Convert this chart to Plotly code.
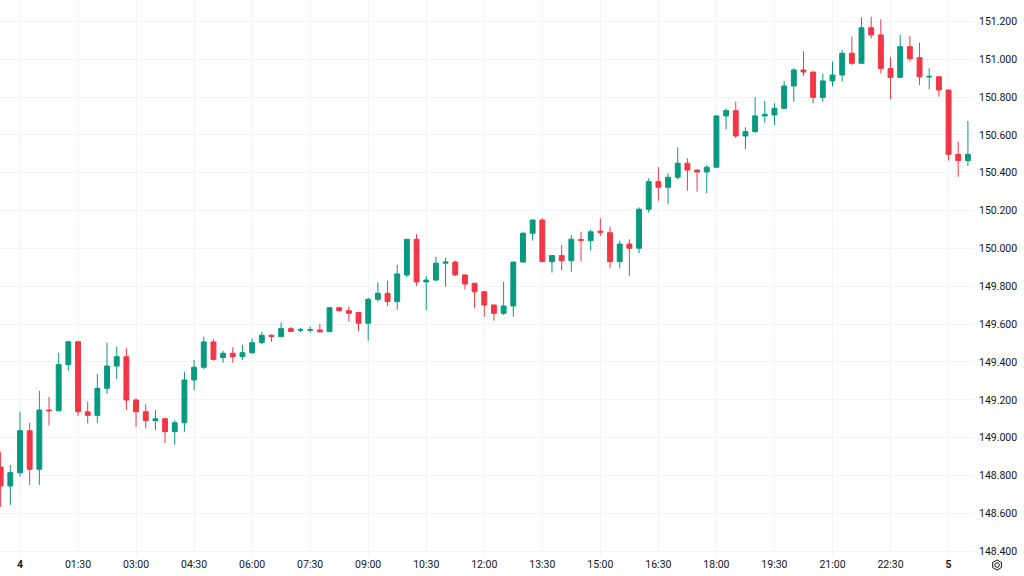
import pandas as pd
import plotly.graph_objects as go
import math

# 15-minute candles from 23:30 (day 3) to 00:30 (day 5)
start_time = "2024-04-03 23:30"
n_candles = 101

opens = [148.845, 148.745, 148.815, 149.037, 148.833, 149.146, 149.142, 149.386, 149.507, 149.137,
         149.118, 149.261, 149.379, 149.428, 149.199, 149.137, 149.090, 149.100, 149.032, 149.079,
         149.305, 149.372, 149.506, 149.423, 149.446, 149.428, 149.449, 149.502, 149.541, 149.534,
         149.576, 149.568, 149.568, 149.569, 149.560, 149.687, 149.671, 149.661, 149.605, 149.731,
         149.763, 149.719, 149.860, 150.048, 149.823, 149.833, 149.922, 149.928, 149.860, 149.816,
         149.771, 149.701, 149.657, 149.696, 149.928, 150.080, 150.150, 149.930, 149.962, 149.935,
         150.047, 150.041, 150.091, 150.083, 149.930, 150.023, 150.001, 150.207, 150.353, 150.323,
         150.376, 150.450, 150.414, 150.404, 150.429, 150.700, 150.728, 150.594, 150.617, 150.700,
         150.705, 150.740, 150.858, 150.943, 150.932, 150.798, 150.885, 150.916, 151.031, 150.978,
         151.166, 151.128, 150.950, 150.904, 151.066, 151.008, 150.906, 150.907, 150.837, 150.497,
         150.464]

highs = [148.925, 148.856, 149.137, 149.079, 149.248, 149.215, 149.449, 149.511, 149.511, 149.190,
         149.337, 149.504, 149.481, 149.472, 149.208, 149.178, 149.146, 149.104, 149.094, 149.349,
         149.411, 149.534, 149.520, 149.458, 149.478, 149.490, 149.525, 149.559, 149.546, 149.608,
         149.585, 149.580, 149.587, 149.601, 149.691, 149.692, 149.692, 149.664, 149.740, 149.821,
         149.830, 149.913, 150.050, 150.076, 149.854, 149.956, 149.951, 149.935, 149.862, 149.817,
         149.772, 149.703, 149.824, 149.930, 150.088, 150.153, 150.159, 149.965, 150.018, 150.071,
         150.088, 150.101, 150.159, 150.115, 150.041, 150.048, 150.217, 150.371, 150.429, 150.397,
         150.534, 150.476, 150.418, 150.441, 150.702, 150.740, 150.775, 150.640, 150.798, 150.780,
         150.767, 150.886, 150.952, 151.042, 150.935, 150.922, 150.987, 151.048, 151.119, 151.221,
         151.224, 151.211, 151.010, 151.128, 151.122, 151.087, 150.952, 150.910, 150.840, 150.564,
         150.673]

lows = [148.634, 148.645, 148.794, 148.750, 148.750, 149.064, 149.140, 149.354, 149.115, 149.076,
        149.079, 149.231, 149.309, 149.146, 149.058, 149.050, 149.041, 148.971, 148.962, 149.032,
        149.252, 149.362, 149.407, 149.396, 149.396, 149.411, 149.442, 149.495, 149.506, 149.532,
        149.559, 149.559, 149.555, 149.557, 149.558, 149.666, 149.613, 149.564, 149.513, 149.719,
        149.696, 149.675, 149.848, 149.802, 149.675, 149.826, 149.798, 149.855, 149.784, 149.684,
        149.639, 149.618, 149.648, 149.639, 149.926, 150.041, 149.928, 149.872, 149.886, 149.877,
        149.930, 149.988, 150.066, 149.895, 149.895, 149.855, 149.974, 150.189, 150.252, 150.233,
        150.365, 150.305, 150.300, 150.291, 150.425, 150.629, 150.583, 150.524, 150.611, 150.664,
        150.652, 150.739, 150.775, 150.911, 150.767, 150.775, 150.855, 150.881, 150.969, 150.977,
        151.110, 150.925, 150.788, 150.903, 150.987, 150.863, 150.841, 150.802, 150.464, 150.379,
        150.436]

closes = [148.745, 148.815, 149.037, 148.833, 149.146, 149.143, 149.386, 149.507, 149.137, 149.118,
          149.261, 149.379, 149.428, 149.199, 149.137, 149.090, 149.100, 149.032, 149.079, 149.305,
          149.372, 149.506, 149.414, 149.446, 149.428, 149.449, 149.502, 149.541, 149.534, 149.576,
          149.562, 149.571, 149.571, 149.559, 149.687, 149.671, 149.657, 149.605, 149.731, 149.763,
          149.719, 149.865, 150.048, 149.823, 149.833, 149.922, 149.928, 149.860, 149.812, 149.771,
          149.701, 149.657, 149.696, 149.928, 150.080, 150.150, 149.930, 149.962, 149.935, 150.048,
          150.043, 150.088, 150.086, 149.930, 150.023, 150.001, 150.207, 150.353, 150.323, 150.376,
          150.450, 150.414, 150.404, 150.429, 150.700, 150.728, 150.594, 150.617, 150.700, 150.709,
          150.740, 150.858, 150.943, 150.932, 150.798, 150.885, 150.916, 151.031, 150.978, 151.166,
          151.128, 150.950, 150.904, 151.066, 151.002, 150.907, 150.909, 150.837, 150.497, 150.464,
          150.497]

tick_times = pd.date_range("2024-04-04 00:00", "2024-04-05 00:00", freq="90min")
tick_labels = ["<b>4</b>", "01:30", "03:00", "04:30", "06:00", "07:30", "09:00", "10:30", "12:00",
               "13:30", "15:00", "16:30", "18:00", "19:30", "21:00", "22:30", "<b>5</b>"]

times = pd.date_range(start_time, periods=n_candles, freq="15min")

GREEN = "#089981"
RED = "#F23645"
GRID = "#f0f3fa"
TEXT = "#131722"

fig = go.Figure(go.Candlestick(
    x=times, open=opens, high=highs, low=lows, close=closes,
    increasing=dict(line=dict(color=GREEN, width=1), fillcolor=GREEN),
    decreasing=dict(line=dict(color=RED, width=1), fillcolor=RED),
    whiskerwidth=0,
    showlegend=False,
))

fig.update_layout(
    width=1024, height=576,
    margin=dict(l=0, r=49, t=0, b=20),
    paper_bgcolor="white", plot_bgcolor="white",
    font=dict(family="Roboto, Arial, sans-serif", size=10.5, color=TEXT),
    xaxis=dict(
        range=["2024-04-03 23:29", "2024-04-05 00:41"],
        rangeslider=dict(visible=False),
        tickvals=tick_times, ticktext=tick_labels,
        showgrid=True, gridcolor=GRID, gridwidth=1,
        zeroline=False, showline=False, ticks="",
        tickfont=dict(size=10.5, color=TEXT),
        fixedrange=True,
    ),
    yaxis=dict(
        side="right",
        range=[148.375, 151.3125],
        tick0=148.4, dtick=0.2, tickformat=".3f",
        showgrid=True, gridcolor=GRID, gridwidth=1,
        zeroline=False, showline=False, ticks="",
        ticklabelstandoff=3,
        tickfont=dict(size=10.5, color=TEXT),
        fixedrange=True,
    ),
    boxgap=0.28,
)

# settings icon (hexagon with circle) at bottom-right corner
cx, cy, r = 1.0226, -0.0162, 0.0052
ry = r * 975 / 556
pts = []
for i in range(6):
    a = math.pi / 6 + i * math.pi / 3
    pts.append((cx + r * math.cos(a), cy + ry * math.sin(a)))
path = "M " + " L ".join(f"{x:.5f},{y:.5f}" for x, y in pts) + " Z"
fig.add_shape(type="path", path=path, xref="paper", yref="paper",
              line=dict(color=TEXT, width=1))
fig.add_shape(type="circle", xref="paper", yref="paper",
              x0=cx - r * 0.45, x1=cx + r * 0.45, y0=cy - ry * 0.45, y1=cy + ry * 0.45,
              line=dict(color=TEXT, width=1))

fig.write_html("out.html", config={"displayModeBar": False},
               post_script="document.body.style.margin='0';document.body.style.overflow='hidden';")
